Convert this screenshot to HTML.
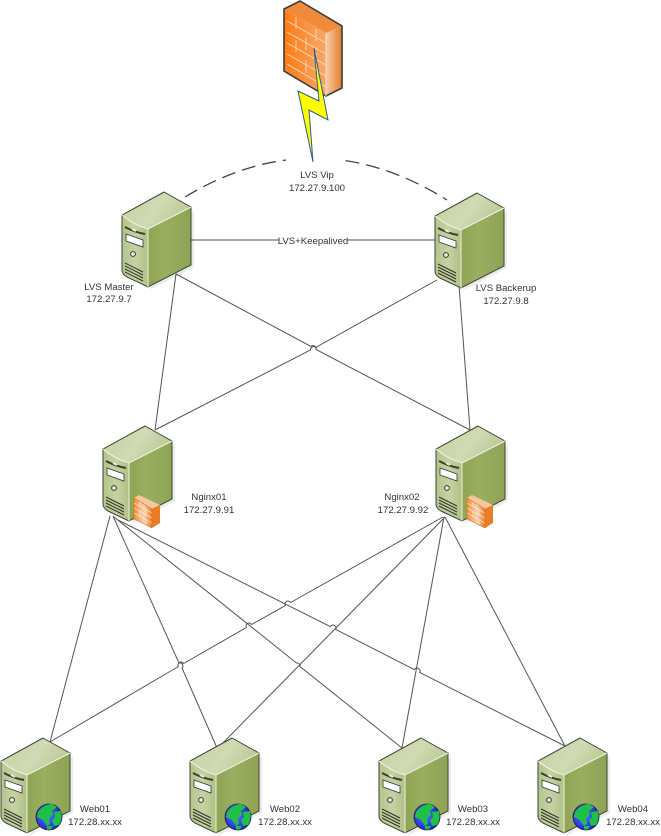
<!DOCTYPE html>
<html><head><meta charset="utf-8"><style>
html,body{margin:0;padding:0;background:#fff}
svg{display:block}
text{font-family:"Liberation Sans",sans-serif;font-size:9.6px;fill:#333;text-anchor:middle}
</style></head><body>
<svg width="661" height="836" viewBox="0 0 661 836" xmlns="http://www.w3.org/2000/svg">
<defs>
<linearGradient id="top" x1="0" y1="0" x2="1" y2="0.4"><stop offset="0" stop-color="#c4d0a0"/><stop offset=".6" stop-color="#d0dab4"/><stop offset="1" stop-color="#bcc995"/></linearGradient>
<linearGradient id="front" x1="0" y1="0" x2="1" y2="0"><stop offset="0" stop-color="#b4c48a"/><stop offset=".5" stop-color="#c6d2a4"/><stop offset="1" stop-color="#b0c086"/></linearGradient>
<linearGradient id="side" x1="0" y1="0" x2="1" y2="0"><stop offset="0" stop-color="#8ea554"/><stop offset=".4" stop-color="#9aae60"/><stop offset="1" stop-color="#8fa356"/></linearGradient>
<linearGradient id="wf" x1="0" y1="0" x2="1" y2="0"><stop offset="0" stop-color="#ff7a12"/><stop offset="1" stop-color="#f8a868"/></linearGradient>
<linearGradient id="ws" x1="0" y1="0" x2="1" y2="0"><stop offset="0" stop-color="#f5cba8"/><stop offset="1" stop-color="#e87d28"/></linearGradient>
<linearGradient id="mf" x1="0" y1="0" x2="1" y2="0"><stop offset="0" stop-color="#f98a30"/><stop offset=".55" stop-color="#f6d2b0"/><stop offset="1" stop-color="#f07c20"/></linearGradient>
<radialGradient id="gl" cx=".42" cy=".45" r=".7"><stop offset="0" stop-color="#5f78ff"/><stop offset=".7" stop-color="#2430d8"/><stop offset="1" stop-color="#0c0c80"/></radialGradient>
<g id="server">
<path d="M72 17V75L28 98Z" fill="#000" opacity=".08"/>
<path d="M26 37L69 15V73L26 95Z" fill="url(#side)"/>
<path d="M0 23Q12 33 26 37V95L5 85Q0 82 0 78Z" fill="url(#front)"/>
<path d="M42 0L69 15L26 37Q12 33 0 23Z" fill="url(#top)"/>
<path d="M42 0L69 15V73L26 95L5 85Q0 82 0 78V23Z" fill="none" stroke="#3c4430" stroke-width="1"/>
<path d="M0 23Q12 33 26 37L69 15" fill="none" stroke="#f2f5e6" stroke-width="1"/>
<path d="M26 37V95" stroke="#eef2dc" stroke-width="1"/>
<path d="M3 35Q12 40 23 42" fill="none" stroke="#3a3f30" stroke-width="2"/>
<path d="M10 37Q12 38 14 39" stroke="#e8edd8" stroke-width="2"/>
<path d="M4 42L21 48V55L4 49Z" fill="#fff" stroke="#333" stroke-width=".8"/>
<circle cx="11" cy="62" r="2.4" fill="#eef2e0" stroke="#333" stroke-width="1"/>
<path d="M3 71L21 80M3 74L21 83M3 77L21 86M3 80L21 89" stroke="#2f3428" stroke-width="1" fill="none"/>
</g>
<g id="minifw">
<path d="M0 0L5 -3L26 7L18 11Z" fill="#f6c69c"/>
<path d="M18 11L26 7V25L18 30Z" fill="#ec7c24"/>
<path d="M0 0L18 11V30L0 21Z" fill="url(#mf)"/>
<path d="M0 5L18 15M0 10L18 20M0 15L18 25M6 3V9M12 12V18M6 13V19M12 22V28" fill="none" stroke="#fff1e4" stroke-width=".7"/>
<path d="M0 0L18 11V30L0 21Z" fill="none" stroke="#d8701c" stroke-width=".6"/>
</g>
<g id="globe">
<circle r="13" fill="url(#gl)" stroke="#1c1c50" stroke-width=".8"/>
<path d="M-11 -5Q-5 -13 3 -13L8 -10L3 -6L4 -2L0 1L1 7L-2 9L-6 3L-12 0Z" fill="#1fc04a"/>
<path d="M5 -5L12 -6Q14 2 10 8L5 9L3 3L6 0Z" fill="#1fc04a"/>
<path d="M-2 9L4 9L2 12.500L-2 12.500Z" fill="#1fc04a"/>
</g>
</defs>

<!-- Connectors -->
<g fill="none" stroke="#555" stroke-width="1">
<path d="M191 240H436"/>
<path d="M176 274L155 430"/>
<path d="M176 274L311 346.5A3 3 0 0 1 316 349.5L470 430"/>
<path d="M437 280L315.5 347.5A3 3 0 0 0 310.5 350L155 430"/>
<path d="M459 285L470 430"/>

<path d="M110 516L50 742"/>
<path d="M113 516L179 663A3 3 0 0 1 182 668L217 748"/>
<path d="M114 517L296.500 663A3 3 0 0 1 300 666.500L402 748" />
<path d="M118 520L330.300 626.600A3 3 0 0 1 335.700 629.400L414.300 669.600A3 3 0 0 1 419.700 672.400L565 746"/>
<path d="M443 517L290.600 602.500A3 3 0 0 0 285.400 605.500L251.600 624.500A3 3 0 0 0 246.400 627.500L183.600 663.500A3 3 0 0 0 178.400 666.500L50 742"/>
<path d="M445 517L218 748"/>
<path d="M444 517L402 748"/>
<path d="M445 517L566 748"/>
</g>

<!-- Dashed arc, interrupted behind the LVS Vip label -->
<path d="M185 197Q316 118 447 200" fill="none" stroke="#444" stroke-width="1.3" stroke-dasharray="14 7"/>
<rect x="286" y="150" width="55" height="20" fill="#fff"/>

<!-- Firewall -->
<g>
<path d="M326 33L342 26V88L326 96Z" fill="url(#ws)"/>
<path d="M300 1L342 26L326 33L284 9Z" fill="#f08a3c"/>
<path d="M284 9L326 33V96L284 71Z" fill="url(#wf)"/>
<path d="M284 9L300 1L342 26V88L326 96L284 71Z" fill="none" stroke="#3a3f3a" stroke-width="1.6"/>
<path d="M326 33V96" stroke="#f5e0cc" stroke-width="1"/>
<path d="M287 21L326 43M287 32L326 54M287 43L326 65M287 54L326 76M287 64L326 87M296 17V29M306 38V50M296 40V52M316 29V41M306 60V73M316 53V65" stroke="#ffdcc0" stroke-width=".9" fill="none"/>
<path d="M314 48L328 120L309 110L313 162L298 91L319 101Z" fill="#ffff00" stroke="#2a5a9a" stroke-width="1"/>
</g>

<!-- Servers -->
<use href="#server" x="122" y="192"/>
<use href="#server" x="435" y="193"/>
<use href="#server" x="103" y="426"/>
<use href="#server" x="436" y="426"/>
<use href="#minifw" x="134" y="498"/>
<use href="#minifw" x="467" y="498"/>
<use href="#server" x="1" y="738"/>
<use href="#server" x="190" y="738"/>
<use href="#server" x="379" y="738"/>
<use href="#server" x="538" y="738"/>
<use href="#globe" x="49" y="817"/>
<use href="#globe" x="238" y="817"/>
<use href="#globe" x="427" y="817"/>
<use href="#globe" x="586" y="817"/>

<!-- Labels -->
<rect x="279" y="235" width="68" height="12" fill="#fff"/>
<text x="313" y="244">LVS+Keepalived</text>
<text x="317" y="178">LVS Vip</text>
<text x="317" y="191">172.27.9.100</text>
<text x="109" y="290">LVS Master</text>
<text x="109" y="302">172.27.9.7</text>
<text x="506" y="291">LVS Backerup</text>
<text x="506" y="304">172.27.9.8</text>
<text x="209" y="500">Nginx01</text>
<text x="209" y="513">172.27.9.91</text>
<text x="402" y="500">Nginx02</text>
<text x="403" y="513">172.27.9.92</text>
<text x="95" y="812">Web01</text>
<text x="95" y="825">172.28.xx.xx</text>
<text x="285" y="812">Web02</text>
<text x="285" y="825">172.28.xx.xx</text>
<text x="473" y="812">Web03</text>
<text x="473" y="825">172.28.xx.xx</text>
<text x="633" y="812">Web04</text>
<text x="633" y="825">172.28.xx.xx</text>
</svg>
</body></html>
